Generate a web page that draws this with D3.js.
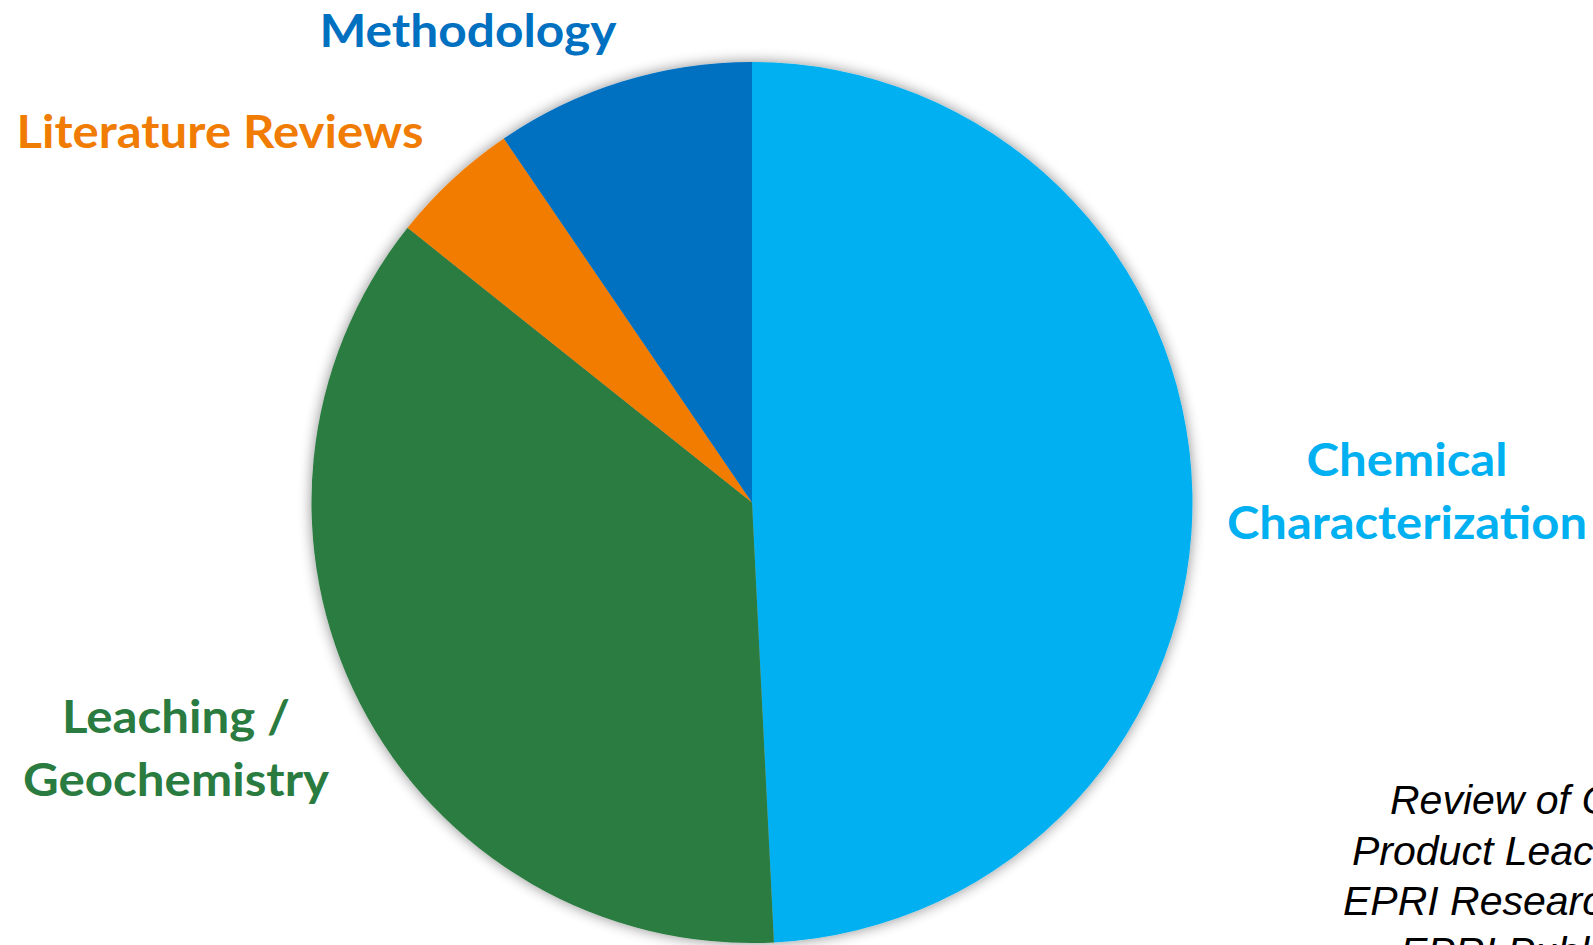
<!DOCTYPE html>
<html>
<head>
<meta charset="utf-8">
<script src="https://cdn.jsdelivr.net/npm/d3@7"></script>
<style>
  html, body { margin: 0; padding: 0; background: #fff; overflow: hidden; }
  svg { display: block; }
</style>
</head>
<body>
<svg id="chart" width="1593" height="945"></svg>
<script>
// Slice data, clockwise from 12 o'clock
var categories = ['Chemical Characterization', 'Leaching / Geochemistry', 'Literature Reviews', 'Methodology'];
var counts = [31, 23, 3, 6];
var colors = ['#00B0F0', '#2A7B3F', '#F17C03', '#0070C0'];

// Label lines for each category (same order as above)
var labelLines = [['Chemical', 'Characterization'], ['Leaching /', 'Geochemistry'], ['Literature Reviews'], ['Methodology']];

// Caption in the bottom right corner (runs off the page edge)
var captionLines = ['Review of Coal Combustion', 'Product Leaching Data in', 'EPRI Research Reports', 'EPRI Publications'];

// Layout: label anchor (centre x, first baseline) and target widths per line
var labelLayout = [
  { x: 1407, y: 476, widths: [201, 360] },
  { x: 176, y: 733, widths: [228, 306] },
  { x: 220, y: 148, widths: [407] },
  { x: 468, y: 47, widths: [297] }
];
var captionStart = [1390, 1352, 1343, 1400];

var drawChart = function () {
  let svg = d3.select('#chart');
  let cx = 752, cy = 502.5, radius = 440.5;

  // Soft shadow round the pie
  let defs = svg.append('defs');
  let filter = defs.append('filter').attr('id', 'shadow')
    .attr('x', '-10%').attr('y', '-10%').attr('width', '120%').attr('height', '120%');
  filter.append('feGaussianBlur').attr('in', 'SourceAlpha').attr('stdDeviation', 7).attr('result', 'blur');
  filter.append('feComponentTransfer').attr('in', 'blur').attr('result', 'fade')
    .append('feFuncA').attr('type', 'linear').attr('slope', 0.45);
  let merge = filter.append('feMerge');
  merge.append('feMergeNode').attr('in', 'fade');
  merge.append('feMergeNode').attr('in', 'SourceGraphic');

  let pie = d3.pie().sort(null).value(d => d)
    .startAngle(0).endAngle(2 * Math.PI);
  let arc = d3.arc().innerRadius(0).outerRadius(radius);

  let g = svg.append('g')
    .attr('transform', `translate(${cx},${cy})`)
    .attr('filter', 'url(#shadow)');

  g.selectAll('path')
    .data(pie(counts))
    .enter().append('path')
    .attr('d', arc)
    .attr('fill', (d, i) => colors[i]);

  // Category labels
  let lineGap = 63;
  labelLines.forEach((lines, i) => {
    let lay = labelLayout[i];
    let t = svg.append('text')
      .attr('text-anchor', 'middle')
      .attr('fill', colors[i])
      .style('font-family', 'Lato, "Open Sans", sans-serif')
      .style('font-weight', 'bold')
      .style('font-size', '45px');
    lines.forEach((line, j) => {
      t.append('tspan')
        .attr('x', lay.x)
        .attr('y', lay.y + j * lineGap)
        .attr('textLength', lay.widths[j])
        .attr('lengthAdjust', 'spacingAndGlyphs')
        .text(line);
    });
  });

  // Italic caption, cut off by the right edge as in the source slide
  let cap = svg.append('text')
    .attr('fill', '#000')
    .style('font-family', '"Liberation Sans", Arial, sans-serif')
    .style('font-style', 'italic')
    .style('font-size', '41px');
  captionLines.forEach((line, j) => {
    cap.append('tspan')
      .attr('x', captionStart[j])
      .attr('y', 814 + j * 50.5)
      .text(line);
  });
};

document.addEventListener('DOMContentLoaded', function () {
  drawChart();
}, false);
</script>
</body>
</html>
